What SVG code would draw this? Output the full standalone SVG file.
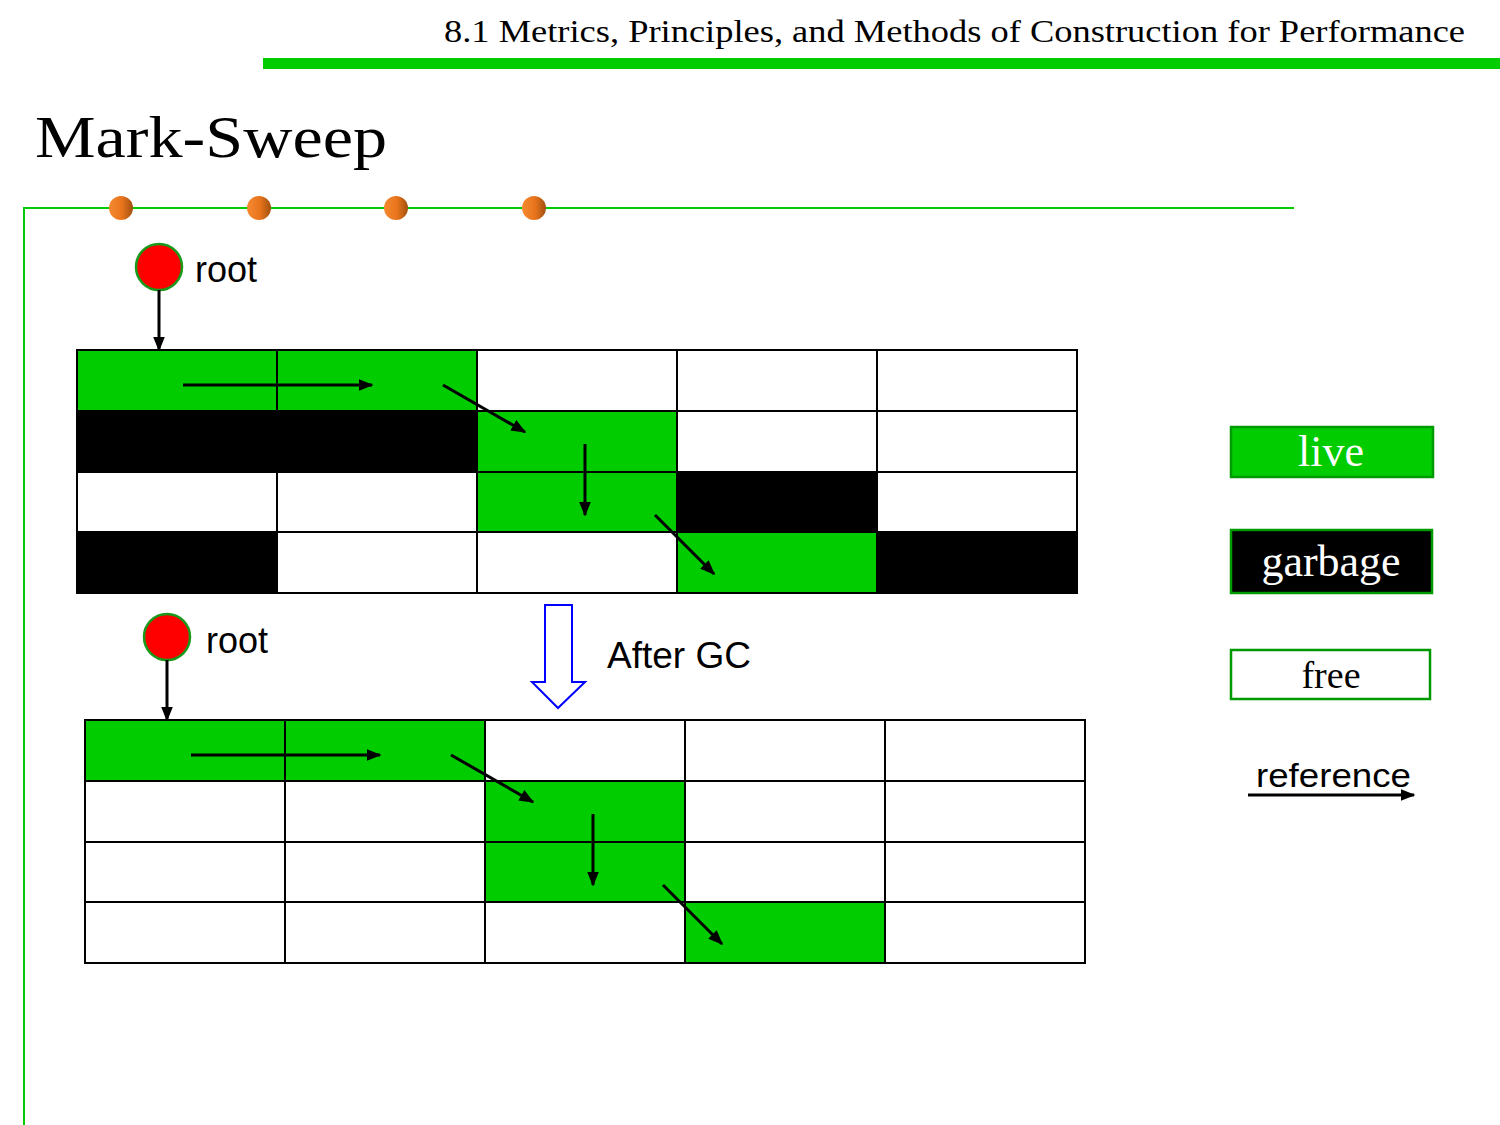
<svg xmlns="http://www.w3.org/2000/svg" width="1500" height="1125" viewBox="0 0 1500 1125">
  <style>
    .cell { stroke: #000; stroke-width: 2; }
    .live { fill: #00cc00; }
    .garbage { fill: #000; }
    .free { fill: #fff; }
    .ref { stroke: #000; stroke-width: 3; fill: none; marker-end: url(#arrow); }
    .sans { font-family: "Liberation Sans", Arial, sans-serif; }
    .serif { font-family: "Liberation Serif", "Times New Roman", serif; }
    .legend { stroke: #009900; stroke-width: 2.5; }
  </style>
  <defs>
    <marker id="arrow" viewBox="0 0 10 10" refX="9" refY="5" markerWidth="5" markerHeight="5" orient="auto" markerUnits="strokeWidth">
      <path d="M0,1 L10,5 L0,9 Z" fill="#000"/>
    </marker>
    <linearGradient id="bead" x1="0" y1="0" x2="1" y2="0">
      <stop offset="0" stop-color="#f58a30"/>
      <stop offset="0.55" stop-color="#e8741c"/>
      <stop offset="1" stop-color="#a0500f"/>
    </linearGradient>
  </defs>

  <rect width="1500" height="1125" fill="#fff"/>

  <!-- header -->
  <text class="serif" x="444" y="42" font-size="32" textLength="1021" lengthAdjust="spacingAndGlyphs">8.1 Metrics, Principles, and Methods of Construction for Performance</text>
  <rect x="263" y="58" width="1237" height="11" fill="#00cc00"/>

  <!-- title -->
  <text class="serif" x="35" y="157" font-size="60" textLength="352" lengthAdjust="spacingAndGlyphs">Mark-Sweep</text>

  <!-- frame lines and beads -->
  <path d="M1294,208 H24 V1125" stroke="#00cc00" stroke-width="2" fill="none"/>
  <circle cx="121" cy="208" r="12" fill="url(#bead)"/>
  <circle cx="259" cy="208" r="12" fill="url(#bead)"/>
  <circle cx="396" cy="208" r="12" fill="url(#bead)"/>
  <circle cx="534" cy="208" r="12" fill="url(#bead)"/>

  <!-- heap before collection -->
  <g id="heap-before">
    <rect class="cell live" x="77" y="350" width="200" height="61"/>
    <rect class="cell live" x="277" y="350" width="200" height="61"/>
    <rect class="cell free" x="477" y="350" width="200" height="61"/>
    <rect class="cell free" x="677" y="350" width="200" height="61"/>
    <rect class="cell free" x="877" y="350" width="200" height="61"/>

    <rect class="cell garbage" x="77" y="411" width="200" height="61"/>
    <rect class="cell garbage" x="277" y="411" width="200" height="61"/>
    <rect class="cell live" x="477" y="411" width="200" height="61"/>
    <rect class="cell free" x="677" y="411" width="200" height="61"/>
    <rect class="cell free" x="877" y="411" width="200" height="61"/>

    <rect class="cell free" x="77" y="472" width="200" height="60"/>
    <rect class="cell free" x="277" y="472" width="200" height="60"/>
    <rect class="cell live" x="477" y="472" width="200" height="60"/>
    <rect class="cell garbage" x="677" y="472" width="200" height="60"/>
    <rect class="cell free" x="877" y="472" width="200" height="60"/>

    <rect class="cell garbage" x="77" y="532" width="200" height="61"/>
    <rect class="cell free" x="277" y="532" width="200" height="61"/>
    <rect class="cell free" x="477" y="532" width="200" height="61"/>
    <rect class="cell live" x="677" y="532" width="200" height="61"/>
    <rect class="cell garbage" x="877" y="532" width="200" height="61"/>
  </g>

  <!-- heap after collection -->
  <g id="heap-after">
    <rect class="cell live" x="85" y="720" width="200" height="61"/>
    <rect class="cell live" x="285" y="720" width="200" height="61"/>
    <rect class="cell free" x="485" y="720" width="200" height="61"/>
    <rect class="cell free" x="685" y="720" width="200" height="61"/>
    <rect class="cell free" x="885" y="720" width="200" height="61"/>

    <rect class="cell free" x="85" y="781" width="200" height="61"/>
    <rect class="cell free" x="285" y="781" width="200" height="61"/>
    <rect class="cell live" x="485" y="781" width="200" height="61"/>
    <rect class="cell free" x="685" y="781" width="200" height="61"/>
    <rect class="cell free" x="885" y="781" width="200" height="61"/>

    <rect class="cell free" x="85" y="842" width="200" height="60"/>
    <rect class="cell free" x="285" y="842" width="200" height="60"/>
    <rect class="cell live" x="485" y="842" width="200" height="60"/>
    <rect class="cell free" x="685" y="842" width="200" height="60"/>
    <rect class="cell free" x="885" y="842" width="200" height="60"/>

    <rect class="cell free" x="85" y="902" width="200" height="61"/>
    <rect class="cell free" x="285" y="902" width="200" height="61"/>
    <rect class="cell free" x="485" y="902" width="200" height="61"/>
    <rect class="cell live" x="685" y="902" width="200" height="61"/>
    <rect class="cell free" x="885" y="902" width="200" height="61"/>
  </g>

  <!-- roots -->
  <g id="root-before">
    <circle cx="159" cy="267" r="23" fill="#ff0000" stroke="#1a9a1a" stroke-width="2.5"/>
    <text class="sans" x="195" y="282" font-size="36">root</text>
  </g>
  <g id="root-after">
    <circle cx="167" cy="637" r="23" fill="#ff0000" stroke="#1a9a1a" stroke-width="2.5"/>
    <text class="sans" x="206" y="653" font-size="36">root</text>
  </g>

  <!-- collection step -->
  <g id="after-gc">
    <polygon points="545,605 572,605 572,682 585,682 558,708 532,682 545,682" fill="#fff" stroke="#0000ff" stroke-width="2"/>
    <text class="sans" x="607" y="668" font-size="36" textLength="144" lengthAdjust="spacingAndGlyphs">After GC</text>
  </g>

  <!-- legend -->
  <g id="legend-live">
    <rect class="legend" x="1231" y="427" width="202" height="50" fill="#00cc00"/>
    <text class="serif" x="1331" y="466" font-size="44" fill="#fff" text-anchor="middle">live</text>
  </g>
  <g id="legend-garbage">
    <rect class="legend" x="1231" y="530" width="201" height="63" fill="#000"/>
    <text class="serif" x="1331" y="576" font-size="44" fill="#fff" text-anchor="middle">garbage</text>
  </g>
  <g id="legend-free">
    <rect class="legend" x="1231" y="650" width="199" height="49" fill="#fff"/>
    <text class="serif" x="1331" y="688" font-size="38" fill="#000" text-anchor="middle">free</text>
  </g>
  <g id="legend-reference">
    <text class="sans" x="1256" y="787" font-size="34" textLength="155" lengthAdjust="spacingAndGlyphs">reference</text>
    <line class="ref" x1="1248" y1="795" x2="1414" y2="795"/>
  </g>

  <!-- references -->
  <g id="connectors">
    <line class="ref" x1="159" y1="290" x2="159" y2="350"/>
    <line class="ref" x1="183" y1="385" x2="372" y2="385"/>
    <line class="ref" x1="443" y1="385" x2="525" y2="432"/>
    <line class="ref" x1="585" y1="444" x2="585" y2="515"/>
    <line class="ref" x1="655" y1="515" x2="714" y2="574"/>

    <line class="ref" x1="167" y1="660" x2="167" y2="720"/>
    <line class="ref" x1="191" y1="755" x2="380" y2="755"/>
    <line class="ref" x1="451" y1="755" x2="533" y2="802"/>
    <line class="ref" x1="593" y1="814" x2="593" y2="885"/>
    <line class="ref" x1="663" y1="885" x2="722" y2="944"/>
  </g>
</svg>
